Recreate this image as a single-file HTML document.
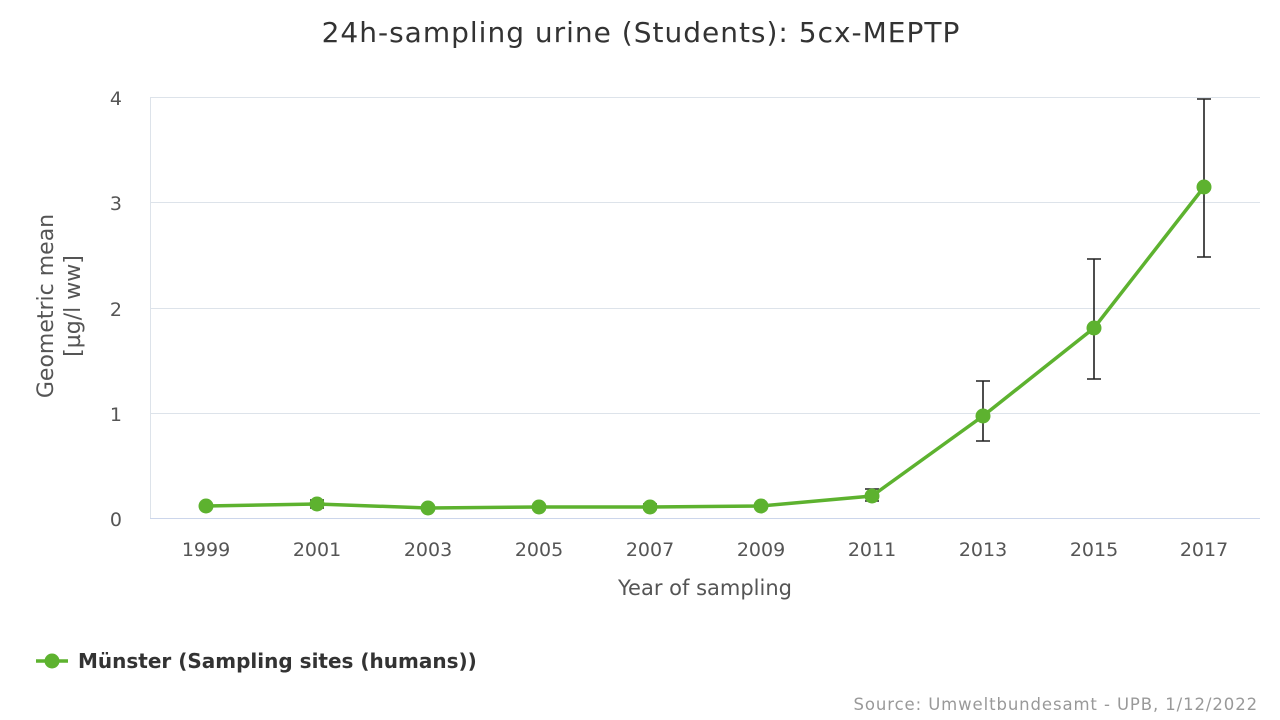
<!DOCTYPE html>
<html><head><meta charset="utf-8"><style>
html,body{margin:0;padding:0;background:#fff;width:1280px;height:720px;overflow:hidden;font-family:"Liberation Sans","DejaVu Sans",sans-serif;}
</style></head><body>
<svg width="1280" height="720" xmlns="http://www.w3.org/2000/svg" font-family="'DejaVu Sans','Liberation Sans',sans-serif">
<text x="641" y="42" text-anchor="middle" font-size="28" letter-spacing="1" fill="#333">24h-sampling urine (Students): 5cx-MEPTP</text>
<g stroke="#dde3ea" stroke-width="1">
<line x1="150" y1="97.5" x2="1260" y2="97.5"/>
<line x1="150" y1="202.5" x2="1260" y2="202.5"/>
<line x1="150" y1="308.5" x2="1260" y2="308.5"/>
<line x1="150" y1="413.5" x2="1260" y2="413.5"/>
<line x1="150.5" y1="97" x2="150.5" y2="518"/>
</g>
<line x1="150" y1="518.5" x2="1260" y2="518.5" stroke="#ccd6eb" stroke-width="1"/>
<g font-size="19" fill="#555" text-anchor="end">
<text x="122" y="105">4</text><text x="122" y="210">3</text><text x="122" y="316">2</text><text x="122" y="421">1</text><text x="122" y="526">0</text>
</g>
<g font-size="19" fill="#555" text-anchor="middle">
<text x="206" y="556">1999</text><text x="317" y="556">2001</text><text x="428" y="556">2003</text><text x="539" y="556">2005</text><text x="650" y="556">2007</text><text x="761" y="556">2009</text><text x="872" y="556">2011</text><text x="983" y="556">2013</text><text x="1094" y="556">2015</text><text x="1204" y="556">2017</text>
</g>
<text x="705" y="595" text-anchor="middle" font-size="21" fill="#555">Year of sampling</text>
<g transform="translate(53,306) rotate(-90)" font-size="22" fill="#555" text-anchor="middle">
<text x="0" y="0">Geometric mean</text><text x="0" y="27">[µg/l ww]</text>
</g>
<g stroke="#222" stroke-width="1.6" fill="none">
<path d="M317 500V508M310 500H324M310 508H324"/>
<path d="M650 504V509M643 504H657M643 509H657"/>
<path d="M872 489V501M865 489H879M865 501H879"/>
<path d="M983 381V441M976 381H990M976 441H990"/>
<path d="M1094 259V379M1087 259H1101M1087 379H1101"/>
<path d="M1204 99V257M1197 99H1211M1197 257H1211"/>
</g>
<polyline fill="none" stroke="#5db22f" stroke-width="3.5" points="206,506 317,504 428,508 539,507 650,507 761,506 872,496 983,416 1094,328 1204,187"/>
<g fill="#5db22f">
<circle cx="206" cy="506" r="7.5"/><circle cx="317" cy="504" r="7.5"/><circle cx="428" cy="508" r="7.5"/><circle cx="539" cy="507" r="7.5"/><circle cx="650" cy="507" r="7.5"/><circle cx="761" cy="506" r="7.5"/><circle cx="872" cy="496" r="7.5"/><circle cx="983" cy="416" r="7.5"/><circle cx="1094" cy="328" r="7.5"/><circle cx="1204" cy="187" r="7.5"/>
</g>
<line x1="36" y1="661" x2="68" y2="661" stroke="#5db22f" stroke-width="3.5"/>
<circle cx="52" cy="661" r="7.5" fill="#5db22f"/>
<text x="78" y="668" font-size="20" font-weight="bold" fill="#333">Münster (Sampling sites (humans))</text>
<text x="1258" y="710" text-anchor="end" font-size="16.5" letter-spacing="0.9" fill="#999">Source: Umweltbundesamt - UPB, 1/12/2022</text>
</svg>
</body></html>
